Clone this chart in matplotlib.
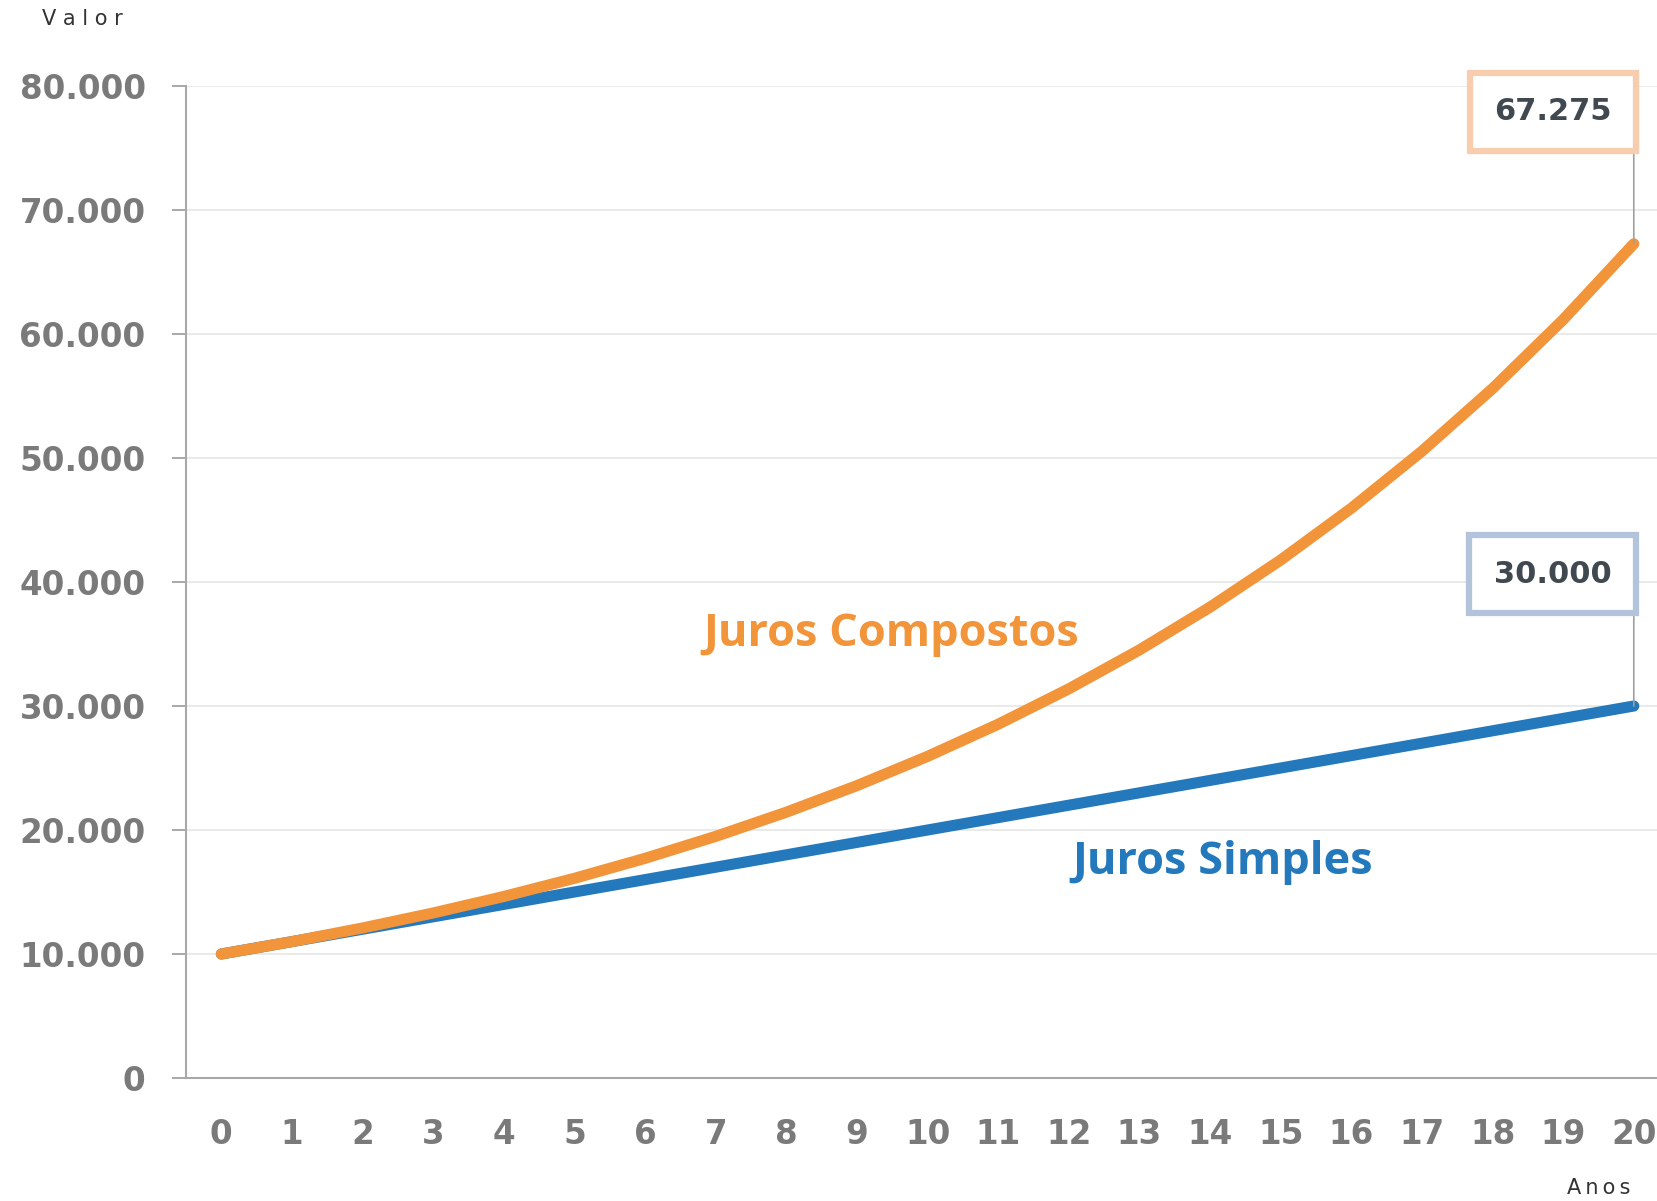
import matplotlib
matplotlib.use("Agg")
import matplotlib.pyplot as plt

# Saldo de um capital de 10.000 ao longo de 20 anos (taxa de 10% a.a.)
anos = list(range(0, 21))
juros_simples = [10000, 11000, 12000, 13000, 14000, 15000, 16000, 17000, 18000, 19000,
                 20000, 21000, 22000, 23000, 24000, 25000, 26000, 27000, 28000, 29000, 30000]
juros_compostos = [10000, 11000, 12100, 13310, 14641, 16105, 17716, 19487, 21436, 23579,
                   25937, 28531, 31384, 34523, 37975, 41772, 45950, 50545, 55599, 61159, 67275]
y_ticks = [0, 10000, 20000, 30000, 40000, 50000, 60000, 70000, 80000]
y_labels = ["0", "10.000", "20.000", "30.000", "40.000", "50.000", "60.000", "70.000", "80.000"]
nome_simples = "Juros Simples"
nome_compostos = "Juros Compostos"
rotulo_simples = "30.000"
rotulo_compostos = "67.275"

LARANJA = "#F2943A"
AZUL = "#2478BC"
CINZA_TXT = "#7a7a7a"
FONTE_NUM = "DejaVu Sans"
FONTE_TXT = "Open Sans"

fig = plt.figure(figsize=(16.58, 12.01), dpi=100)
fig.patch.set_facecolor("white")
ax = fig.add_axes([0.1122, 0.1024, 0.8945, 0.826])

ax.set_xlim(-0.5, 20.5)
ax.set_ylim(0, 80000)

ax.set_yticks(y_ticks)
ax.set_yticklabels(y_labels)
ax.set_xticks(anos)
ax.set_xticklabels([str(a) for a in anos])

for lab in ax.get_yticklabels() + ax.get_xticklabels():
    lab.set_fontfamily(FONTE_NUM)
    lab.set_fontweight("bold")
    lab.set_fontsize(23.5)
    lab.set_color(CINZA_TXT)

ax.tick_params(axis="y", length=10, width=1.2, color="#9a9a9a", pad=19, direction="out")
ax.tick_params(axis="x", length=0, pad=29)

ax.grid(axis="y", color="#e6e6e6", linewidth=1.2)
ax.set_axisbelow(True)
for side in ["top", "right"]:
    ax.spines[side].set_visible(False)
for side in ["left", "bottom"]:
    ax.spines[side].set_color("#a8a8a8")
    ax.spines[side].set_linewidth(1.5)

ax.plot(anos, juros_simples, color=AZUL, linewidth=8, solid_capstyle="round", zorder=3)
ax.plot(anos, juros_compostos, color=LARANJA, linewidth=8, solid_capstyle="round", zorder=4)

# Nomes das séries
ax.text(9.48, 35800, nome_compostos, color=LARANJA, fontsize=32.5, fontweight="bold",
        fontfamily=FONTE_TXT, ha="center", va="center", zorder=5)
ax.text(14.18, 17400, nome_simples, color=AZUL, fontsize=32.5, fontweight="bold",
        fontfamily=FONTE_TXT, ha="center", va="center", zorder=5)

# Rótulos do último valor de cada série, com linha de chamada vertical
for valor, texto, borda in [(juros_compostos[-1], rotulo_compostos, "#F8CDAE"),
                             (juros_simples[-1], rotulo_simples, "#B2C4DC")]:
    ax.annotate("", xy=(anos[-1], valor), xytext=(0, 80), textcoords="offset points",
                arrowprops=dict(arrowstyle="-", color="#a0a0a0", linewidth=1.2,
                                shrinkA=0, shrinkB=0), zorder=5)
    ax.annotate(texto, xy=(anos[-1], valor), xytext=(-16, 95), textcoords="offset points",
                ha="right", va="center", fontsize=22, fontweight="bold",
                fontfamily=FONTE_NUM, color="#404850", zorder=6,
                bbox=dict(boxstyle="square,pad=0.8", facecolor="white",
                          edgecolor=borda, linewidth=4.5))

# Títulos dos eixos
fig.text(0.0495, 0.984, "V a l o r", fontsize=15, color="#333333", ha="center", va="center",
         fontfamily="DejaVu Sans")
fig.text(0.9644, 0.011, "A\u2009n\u2009o\u2009s", fontsize=15, color="#333333",
         ha="center", va="center", fontfamily="DejaVu Sans")

fig.savefig("out.png", dpi=100, facecolor="white")
